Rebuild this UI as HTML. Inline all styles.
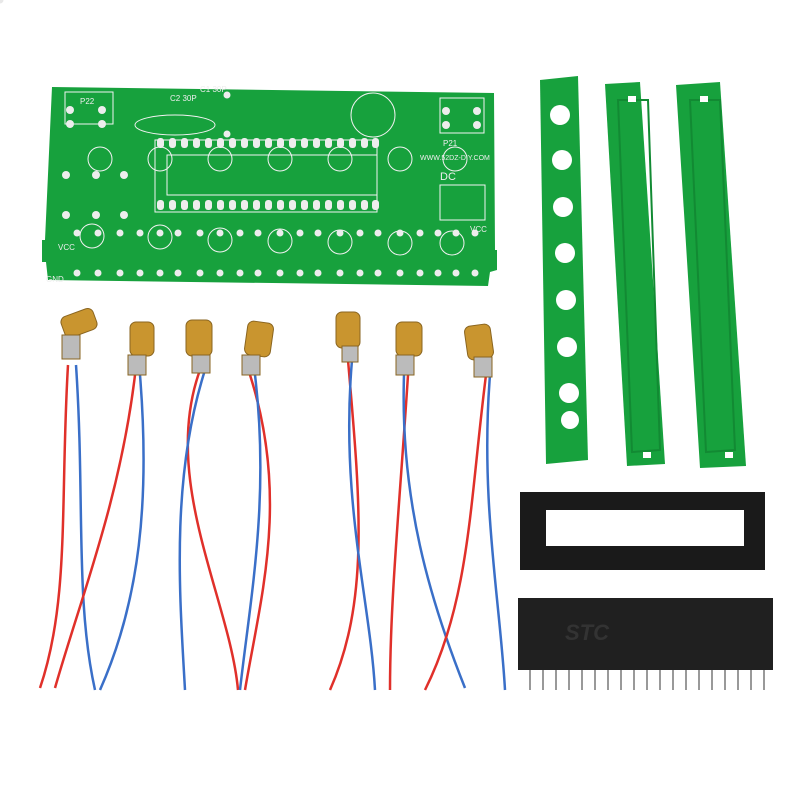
<!DOCTYPE html>
<html><head><style>html,body{margin:0;padding:0;background:#fff}svg{display:block}</style></head>
<body>
<svg width="800" height="800" viewBox="0 0 800 800" xmlns="http://www.w3.org/2000/svg" font-family="Liberation Sans, sans-serif">
<rect width="800" height="800" fill="#fff"/>
<!-- main PCB -->
<path d="M52,87 L494,93 L495,250 L497,250 L497,270 L490,272 L488,286 L48,280 L46,262 L42,262 L42,240 L45,240 Z" fill="#17a13d"/>
<g fill="none" stroke="#f2f2f2" stroke-width="1">
<rect x="155" y="140" width="222" height="72"/>
<rect x="167" y="155" width="210" height="40"/>
<rect x="65" y="92" width="48" height="32"/>
<rect x="440" y="98" width="44" height="35"/>
<rect x="440" y="185" width="45" height="35"/>
<circle cx="373" cy="115" r="22"/>
<ellipse cx="175" cy="125" rx="40" ry="10"/>
<circle cx="100" cy="159" r="12"/><circle cx="160" cy="159" r="12"/><circle cx="220" cy="159" r="12"/><circle cx="280" cy="159" r="12"/><circle cx="340" cy="159" r="12"/><circle cx="400" cy="159" r="12"/><circle cx="455" cy="159" r="12"/>
<circle cx="60" cy="148" r="12" transform="translate(32,88)"/>
<circle cx="160" cy="237" r="12"/><circle cx="220" cy="240" r="12"/><circle cx="280" cy="241" r="12"/><circle cx="340" cy="242" r="12"/><circle cx="400" cy="243" r="12"/><circle cx="452" cy="243" r="12"/>
</g>
<g fill="#e8e8e8">
<g id="pads">
<circle cx="0" cy="0" r="3.5"/>
</g>
</g>
<g fill="#ededed">
<!-- IC pads -->
<g id="row">
<rect x="157" y="138" width="7" height="10" rx="3"/><rect x="169" y="138" width="7" height="10" rx="3"/><rect x="181" y="138" width="7" height="10" rx="3"/><rect x="193" y="138" width="7" height="10" rx="3"/><rect x="205" y="138" width="7" height="10" rx="3"/><rect x="217" y="138" width="7" height="10" rx="3"/><rect x="229" y="138" width="7" height="10" rx="3"/><rect x="241" y="138" width="7" height="10" rx="3"/><rect x="253" y="138" width="7" height="10" rx="3"/><rect x="265" y="138" width="7" height="10" rx="3"/><rect x="277" y="138" width="7" height="10" rx="3"/><rect x="289" y="138" width="7" height="10" rx="3"/><rect x="301" y="138" width="7" height="10" rx="3"/><rect x="313" y="138" width="7" height="10" rx="3"/><rect x="325" y="138" width="7" height="10" rx="3"/><rect x="337" y="138" width="7" height="10" rx="3"/><rect x="349" y="138" width="7" height="10" rx="3"/><rect x="361" y="138" width="7" height="10" rx="3"/><rect x="372" y="138" width="7" height="10" rx="3"/>
</g>
<use href="#row" y="62"/>
<!-- bottom holes -->
<g id="brow">
<circle cx="77" cy="273" r="3.5"/><circle cx="98" cy="273" r="3.5"/><circle cx="120" cy="273" r="3.5"/><circle cx="140" cy="273" r="3.5"/><circle cx="160" cy="273" r="3.5"/><circle cx="178" cy="273" r="3.5"/><circle cx="200" cy="273" r="3.5"/><circle cx="220" cy="273" r="3.5"/><circle cx="240" cy="273" r="3.5"/><circle cx="258" cy="273" r="3.5"/><circle cx="280" cy="273" r="3.5"/><circle cx="300" cy="273" r="3.5"/><circle cx="318" cy="273" r="3.5"/><circle cx="340" cy="273" r="3.5"/><circle cx="360" cy="273" r="3.5"/><circle cx="378" cy="273" r="3.5"/><circle cx="400" cy="273" r="3.5"/><circle cx="420" cy="273" r="3.5"/><circle cx="438" cy="273" r="3.5"/><circle cx="456" cy="273" r="3.5"/><circle cx="475" cy="273" r="3.5"/>
</g>
<use href="#brow" y="-40"/>
<circle cx="70" cy="110" r="4"/><circle cx="102" cy="110" r="4"/><circle cx="70" cy="124" r="4"/><circle cx="102" cy="124" r="4"/>
<circle cx="446" cy="111" r="4"/><circle cx="477" cy="111" r="4"/><circle cx="446" cy="125" r="4"/><circle cx="477" cy="125" r="4"/>
<circle cx="66" cy="175" r="4"/><circle cx="96" cy="175" r="4"/><circle cx="124" cy="175" r="4"/>
<circle cx="66" cy="215" r="4"/><circle cx="96" cy="215" r="4"/><circle cx="124" cy="215" r="4"/>
<circle cx="227" cy="95" r="3.5"/><circle cx="227" cy="134" r="3.5"/>
</g>
<g font-size="8" fill="#eee">
<text x="58" y="250">VCC</text><text x="470" y="232">VCC</text><text x="46" y="282">GND</text>
<text x="80" y="104">P22</text><text x="443" y="146">P21</text><text x="440" y="180" font-size="11">DC</text>
<text x="170" y="101">C2 30P</text><text x="200" y="92">C1 30P</text>
<text x="420" y="160" font-size="7">WWW.52DZ-DIY.COM</text>
</g>
<!-- strips -->
<path d="M540,80 L578,76 L588,460 L546,464 Z" fill="#17a13d"/>
<g fill="#fff"><circle cx="560" cy="115" r="10"/><circle cx="562" cy="160" r="10"/><circle cx="563" cy="207" r="10"/><circle cx="565" cy="253" r="10"/><circle cx="566" cy="300" r="10"/><circle cx="567" cy="347" r="10"/><circle cx="569" cy="393" r="10"/><circle cx="570" cy="420" r="9"/></g>
<path d="M605,84 L640,82 L665,464 L627,466 Z" fill="#17a13d"/>
<path d="M618,100 L648,100 L660,450 L632,452 Z" fill="none" stroke="#128a33" stroke-width="2"/>
<path d="M676,85 L720,82 L746,466 L700,468 Z" fill="#17a13d"/>
<path d="M690,100 L720,100 L735,450 L706,452 Z" fill="none" stroke="#128a33" stroke-width="2"/>
<g fill="#fff"><rect x="628" y="96" width="8" height="6"/><rect x="700" y="96" width="8" height="6"/><rect x="643" y="452" width="8" height="6"/><rect x="725" y="452" width="8" height="6"/></g>
<!-- socket -->
<rect x="520" y="492" width="245" height="78" fill="#1a1a1a"/>
<rect x="546" y="510" width="198" height="36" fill="#fff"/>
<!-- chip -->
<rect x="518" y="598" width="255" height="72" fill="#202020"/>
<text x="565" y="640" font-size="22" fill="#333" font-style="italic" font-weight="bold">STC</text>
<g stroke="#999" stroke-width="2">
<line x1="530" y1="670" x2="530" y2="690"/><line x1="543" y1="670" x2="543" y2="690"/><line x1="556" y1="670" x2="556" y2="690"/><line x1="569" y1="670" x2="569" y2="690"/><line x1="582" y1="670" x2="582" y2="690"/><line x1="595" y1="670" x2="595" y2="690"/><line x1="608" y1="670" x2="608" y2="690"/><line x1="621" y1="670" x2="621" y2="690"/><line x1="634" y1="670" x2="634" y2="690"/><line x1="647" y1="670" x2="647" y2="690"/><line x1="660" y1="670" x2="660" y2="690"/><line x1="673" y1="670" x2="673" y2="690"/><line x1="686" y1="670" x2="686" y2="690"/><line x1="699" y1="670" x2="699" y2="690"/><line x1="712" y1="670" x2="712" y2="690"/><line x1="725" y1="670" x2="725" y2="690"/><line x1="738" y1="670" x2="738" y2="690"/><line x1="751" y1="670" x2="751" y2="690"/><line x1="764" y1="670" x2="764" y2="690"/>
</g>
<!-- wires -->
<g fill="none" stroke-width="2.5">
<path d="M68,365 C60,500 70,600 40,688" stroke="#e0302a"/><path d="M76,365 C85,500 75,600 95,690" stroke="#3a6fc8"/>
<path d="M135,375 C120,500 80,600 55,688" stroke="#e0302a"/><path d="M140,375 C150,500 140,600 100,690" stroke="#3a6fc8"/>
<path d="M200,370 C160,480 230,600 238,690" stroke="#e0302a"/><path d="M205,370 C170,480 180,600 185,690" stroke="#3a6fc8"/>
<path d="M250,375 C290,500 260,600 245,690" stroke="#e0302a"/><path d="M255,375 C270,500 250,600 240,690" stroke="#3a6fc8"/>
<path d="M348,360 C360,500 370,600 330,690" stroke="#e0302a"/><path d="M352,360 C340,500 370,600 375,690" stroke="#3a6fc8"/>
<path d="M408,375 C400,500 390,600 390,690" stroke="#e0302a"/><path d="M404,375 C400,500 430,600 465,688" stroke="#3a6fc8"/>
<path d="M486,375 C470,500 470,600 425,690" stroke="#e0302a"/><path d="M490,375 C480,500 500,600 505,690" stroke="#3a6fc8"/>
</g>
<!-- laser modules -->
<g fill="#c9952f" stroke="#8a6520" stroke-width="1">
<rect x="62" y="312" width="34" height="22" rx="6" transform="rotate(-20 79 323)"/><rect x="62" y="335" width="18" height="24" fill="#bbb"/>
<rect x="130" y="322" width="24" height="34" rx="6"/><rect x="128" y="355" width="18" height="20" fill="#bbb"/>
<rect x="186" y="320" width="26" height="36" rx="6"/><rect x="192" y="355" width="18" height="18" fill="#bbb"/>
<rect x="246" y="322" width="26" height="34" rx="6" transform="rotate(8 259 339)"/><rect x="242" y="355" width="18" height="20" fill="#bbb"/>
<rect x="336" y="312" width="24" height="36" rx="6"/><rect x="342" y="346" width="16" height="16" fill="#bbb"/>
<rect x="396" y="322" width="26" height="34" rx="6"/><rect x="396" y="355" width="18" height="20" fill="#bbb"/>
<rect x="466" y="325" width="26" height="34" rx="6" transform="rotate(-8 479 342)"/><rect x="474" y="357" width="18" height="20" fill="#bbb"/>
</g>
</svg>
</body></html>
